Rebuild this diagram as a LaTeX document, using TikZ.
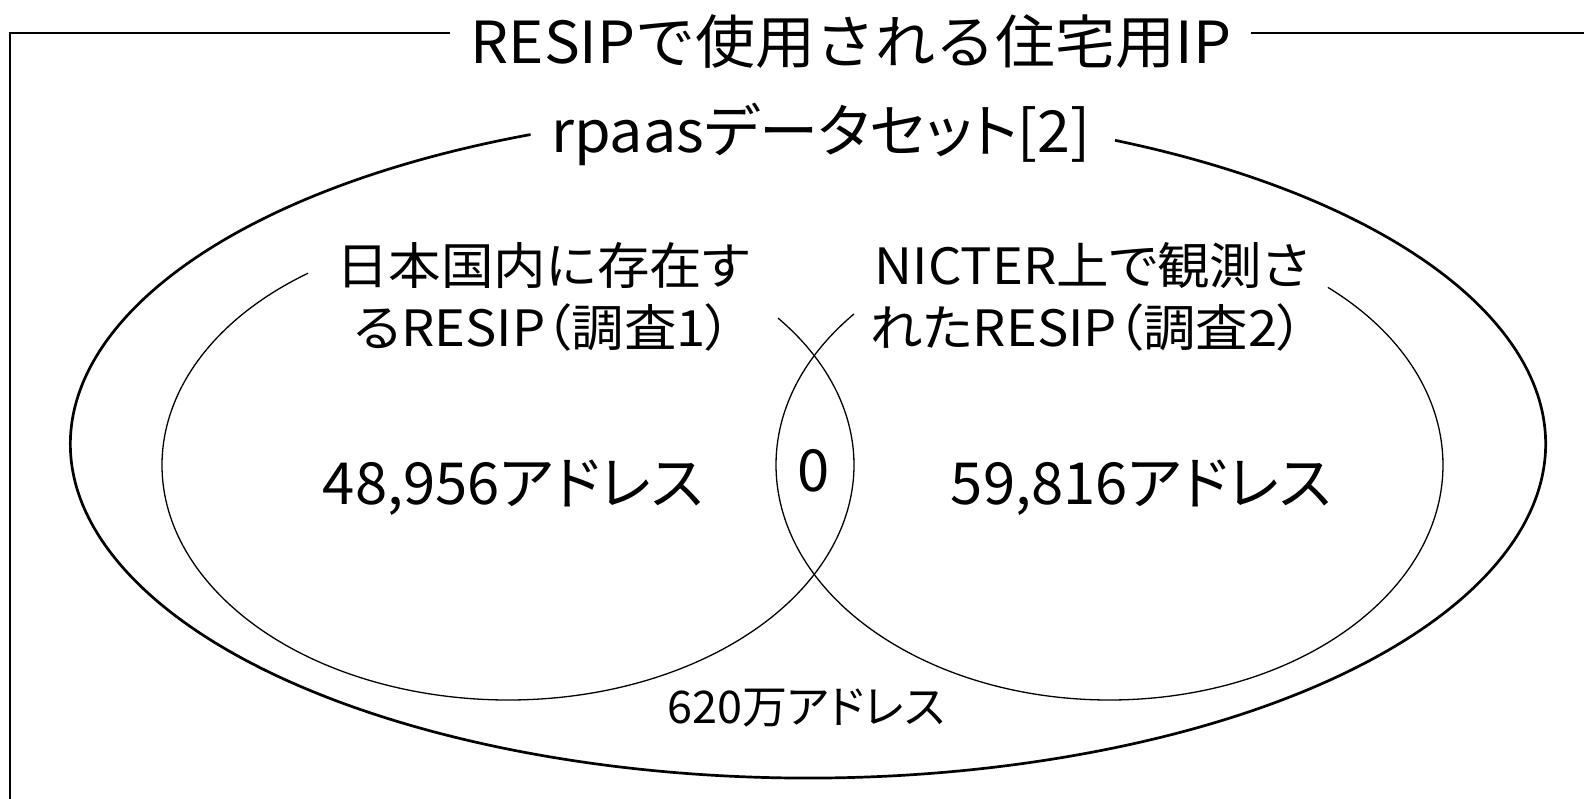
\documentclass[tikz,border=0pt]{standalone}
\usepackage{fontspec}
\setmainfont{Noto Sans CJK JP}[RawFeature=+palt]
\newfontfamily\titlefont{Noto Sans CJK JP}[FakeStretch=1.035]
\newfontfamily\setfont{Noto Sans CJK JP}[RawFeature=+palt,FakeStretch=1.02]
\newfontfamily\labelfont{Noto Sans CJK JP}[RawFeature=+palt,FakeStretch=1.05]
\begin{document}
\begin{tikzpicture}[x=1pt,y=1pt,
  frameline/.style={line width=2.7pt},
  outerline/.style={line width=2.7pt},
  innerline/.style={line width=1.3pt},
  txt/.style={inner sep=0pt, anchor=base},
  big/.style={font=\fontsize{58}{60}\selectfont},
  mid/.style={font=\labelfont\fontsize{50}{60}\selectfont},
  small/.style={font=\fontsize{45}{50}\selectfont}]
\useasboundingbox (0,0) rectangle (1584,798);
\fill[white] (0,0) rectangle (1584,798);
% frame
\draw[frameline] (450,765) -- (10,765) -- (10,-5);
\draw[frameline] (1251,765) -- (1590,765);
\node[txt,font=\titlefont\fontsize{58}{60}\selectfont] (title) at (851,734) {RESIPで使用される住宅用IP};
% outer ellipse
\draw[outerline] (808,354) ++(112.1:737.5 and 334) arc[start angle=112.1, end angle=425.4, x radius=737.5, y radius=334];
\node[txt,font=\setfont\fontsize{58}{60}\selectfont] (rpaas) at (821,645) {rpaasデータセット[2]};
% inner ellipses
\draw[innerline] (508,333) ++(125.3:346 and 235) arc[start angle=125.3, end angle=398.7, x radius=346, y radius=235];
\draw[innerline] (1109.5,333) ++(140:333.5 and 235) arc[start angle=140, end angle=409.1, x radius=333.5, y radius=235];
\node[txt,mid] (la) at (543,513) {日本国内に存在す};
\node[txt,mid] (lb) at (543,451) {るRESIP（調査1）};
\node[txt,mid] (ra) at (1092,513) {NICTER上で観測さ};
\node[txt,mid] (rb) at (1087,451) {れたRESIP（調査2）};
\node[txt,big] (nl) at (513,293) {48,956アドレス};
\node[txt,big] (nr) at (1141,293) {59,816アドレス};
\node[txt,big] (nz) at (814,306) {0};
\node[txt,small] (tot) at (806,75) {620万アドレス};
\end{tikzpicture}
\end{document}
